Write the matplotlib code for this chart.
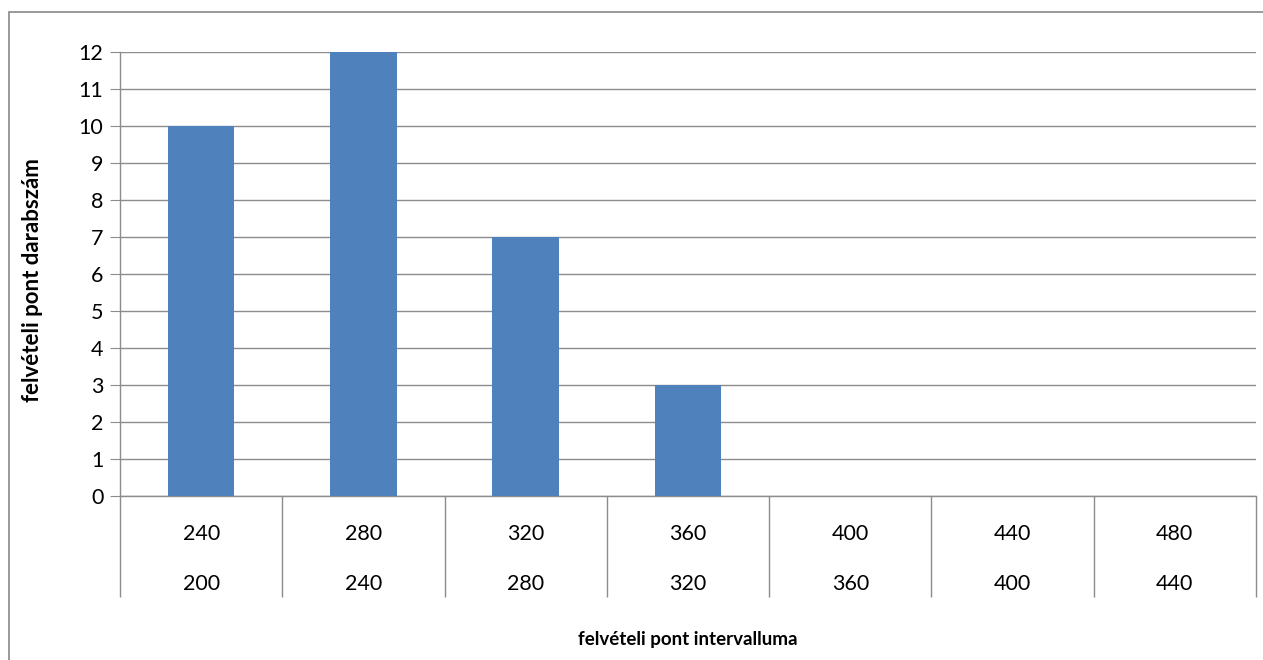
import matplotlib
matplotlib.use("Agg")
import matplotlib.pyplot as plt
from matplotlib.patches import Rectangle
import matplotlib.transforms as mtransforms

# data
upper_bounds = ["240", "280", "320", "360", "400", "440", "480"]
lower_bounds = ["200", "240", "280", "320", "360", "400", "440"]
counts = [10, 12, 7, 3, 0, 0, 0]

BAR_COLOR = "#4F81BD"
GRID_COLOR = "#8C8C8C"
TICK_FS = 15.5

plt.rcParams["font.family"] = ["Lato", "DejaVu Sans"]

W, H = 1263, 660
fig = plt.figure(figsize=(W / 100, H / 100), dpi=100)
ax = fig.add_axes([120 / W, 1 - 496 / H, (1256 - 120) / W, (496 - 52) / H])

n = len(counts)
xs = [i + 0.5 for i in range(n)]
ax.bar(xs, counts, width=0.41, color=BAR_COLOR, zorder=3)

ax.set_xlim(0, n)
ax.set_ylim(0, 12)
ax.set_yticks(range(0, 13))
ax.tick_params(axis="y", length=7, color=GRID_COLOR, labelsize=TICK_FS, pad=5)
ax.set_xticks([])
ax.grid(axis="y", color=GRID_COLOR, linewidth=1.0, zorder=0)
for s in ["top", "right"]:
    ax.spines[s].set_visible(False)
for s in ["left", "bottom"]:
    ax.spines[s].set_color(GRID_COLOR)
    ax.spines[s].set_linewidth(1.0)

# two-level category axis
trans = mtransforms.blended_transform_factory(ax.transData, ax.transAxes)
sep_bottom = -(597 - 496) / (496 - 52)
ax.vlines(range(n + 1), sep_bottom, 0, transform=trans, colors=GRID_COLOR,
          linewidth=1.0, clip_on=False)
row1 = -(534 - 496) / (496 - 52)
row2 = -(584 - 496) / (496 - 52)
for x, up, lo in zip(xs, upper_bounds, lower_bounds):
    ax.text(x, row1, up, transform=trans, ha="center", va="center", fontsize=TICK_FS)
    ax.text(x, row2, lo, transform=trans, ha="center", va="center", fontsize=TICK_FS)

fig.text(688 / W, 1 - 640 / H, "felvételi pont intervalluma", ha="center",
         va="center", fontsize=13.5, fontweight="bold")
fig.text(33 / W, 1 - 280 / H, "felvételi pont darabszám", ha="center",
         va="center", rotation=90, fontsize=16, fontweight="bold")

# outer chart border (cropped at right and bottom)
fig.patches.append(Rectangle((9 / W, -0.1), 1.2, 1.1 - 12 / H,
                             transform=fig.transFigure, fill=False,
                             edgecolor="#888888", linewidth=1.2))

fig.savefig("out.png", dpi=100)
